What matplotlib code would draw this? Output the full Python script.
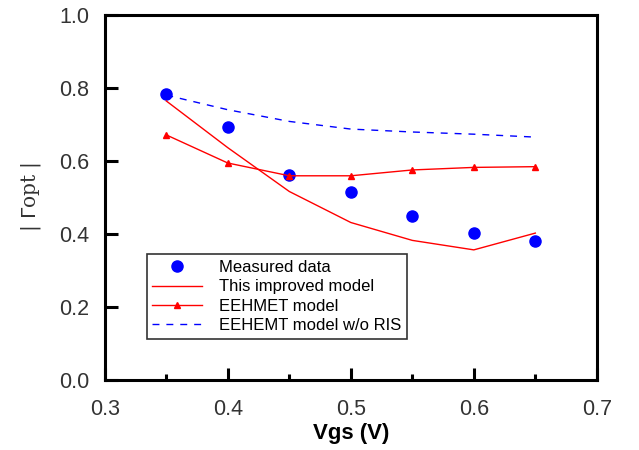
import matplotlib.pyplot as plt
from matplotlib.ticker import MultipleLocator

# Gate bias points
vgs = [0.35, 0.40, 0.45, 0.50, 0.55, 0.60, 0.65]

# |Gamma_opt| for each data set
measured = [0.784, 0.693, 0.562, 0.515, 0.449, 0.403, 0.381]
improved = [0.764, 0.636, 0.516, 0.431, 0.382, 0.356, 0.402]
eehmet = [0.671, 0.594, 0.559, 0.559, 0.575, 0.582, 0.584]
eehemt_no_ris = [0.780, 0.740, 0.708, 0.687, 0.679, 0.673, 0.665]

plt.rcParams['font.family'] = ['Liberation Sans', 'DejaVu Sans']

fig = plt.figure(figsize=(6.39, 4.5), dpi=100)
ax = fig.add_axes([0.164, 0.156, 0.770, 0.811])

ax.plot(vgs, measured, 'o', color='blue', markersize=8, label='Measured data')
ax.plot(vgs, improved, '-', color='red', linewidth=1, label='This improved model')
ax.plot(vgs, eehmet, '-', color='red', linewidth=1, marker='^',
        markersize=4, label='EEHMET model')
ax.plot(vgs, eehemt_no_ris, '--', color='blue', linewidth=1,
        dashes=(5, 5), label='EEHEMT model w/o RIS')

ax.set_xlim(0.3, 0.7)
ax.set_ylim(0.0, 1.0)
ax.xaxis.set_major_locator(MultipleLocator(0.1))
ax.xaxis.set_minor_locator(MultipleLocator(0.05))
ax.yaxis.set_major_locator(MultipleLocator(0.2))

for s in ax.spines.values():
    s.set_linewidth(2.2)
ax.tick_params(which='major', direction='in', length=9, width=2.2,
               labelsize=15.5, pad=11, colors='black')
ax.tick_params(axis='x', which='major', pad=14)
ax.tick_params(which='minor', direction='in', length=4, width=2.2)
ax.tick_params(axis='x', which='both', top=False)
ax.tick_params(axis='y', which='both', right=False)
ax.xaxis.set_major_formatter(plt.FormatStrFormatter('%.1f'))
ax.yaxis.set_major_formatter(plt.FormatStrFormatter('%.1f'))
for lbl in ax.get_xticklabels() + ax.get_yticklabels():
    lbl.set_color('#333333')

ax.set_xlabel('Vgs (V)', fontsize=16, fontweight='bold', labelpad=2)
ax.set_ylabel('| $\\Gamma$opt |', fontsize=14.5, labelpad=12, color='#333333',
              family=['DejaVu Serif'])

leg = ax.legend(loc='lower left', bbox_to_anchor=(0.068, 0.09), fontsize=12,
                frameon=True, fancybox=False, edgecolor='black',
                handlelength=3.0, borderpad=0.35, labelspacing=0.25,
                handletextpad=1.0)
leg.get_frame().set_linewidth(1.2)

fig.savefig('out.png', dpi=100)
